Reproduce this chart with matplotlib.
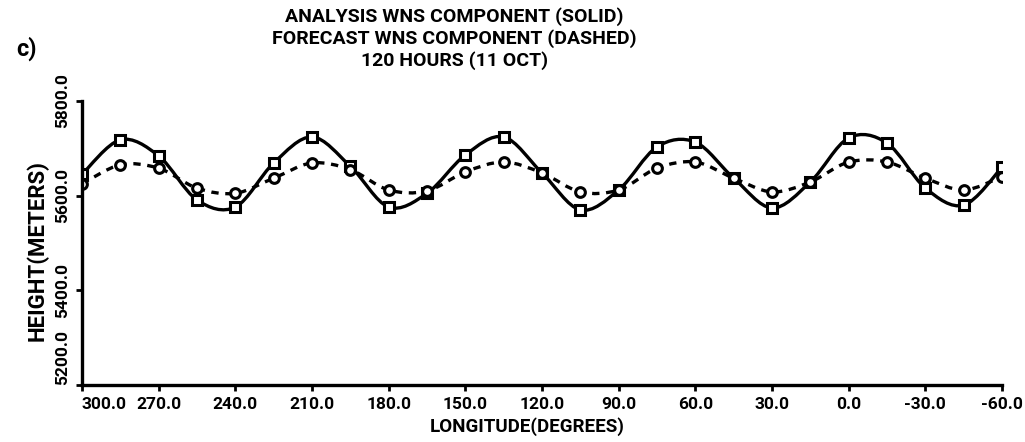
import numpy as np
import matplotlib
matplotlib.use('Agg')
from matplotlib import pyplot as plt
from matplotlib.path import Path
from matplotlib.patches import PathPatch

plt.rcParams['font.family'] = ['Roboto', 'DejaVu Sans']
plt.rcParams['font.weight'] = 'bold'

# longitude (deg), every 15 degrees
lon = [300, 285, 270, 255, 240, 225, 210, 195, 180, 165, 150, 135, 120,
       105, 90, 75, 60, 45, 30, 15, 0, -15, -30, -45, -60]
# analysis WNS component (solid)
analysis = [5645, 5718, 5684, 5591, 5576, 5669, 5724, 5662, 5576, 5605,
            5686, 5724, 5648, 5570, 5612, 5703, 5713, 5637, 5574, 5629,
            5722, 5711, 5616, 5580, 5660]
# forecast WNS component (dashed)
forecast = [5625, 5665, 5658, 5616, 5605, 5637, 5669, 5655, 5612, 5610,
            5650, 5671, 5648, 5608, 5612, 5658, 5671, 5637, 5608, 5629,
            5671, 5671, 5637, 5612, 5640]

xticks = [300, 270, 240, 210, 180, 150, 120, 90, 60, 30, 0, -30, -60]
yticks = [5200, 5400, 5600, 5800]


def smooth_path(x, y):
    # catmull-rom through the points, written as cubic bezier segments
    p = np.column_stack([x, y]).astype(float)
    verts = [p[0]]
    codes = [Path.MOVETO]
    n = len(p)
    for i in range(n - 1):
        p0 = p[i - 1] if i > 0 else p[i]
        p3 = p[i + 2] if i + 2 < n else p[i + 1]
        c1 = p[i] + (p[i + 1] - p0) / 6.0
        c2 = p[i + 1] - (p3 - p[i]) / 6.0
        verts += [c1, c2, p[i + 1]]
        codes += [Path.CURVE4] * 3
    return Path(verts, codes)


fig = plt.figure(figsize=(10.25, 4.42), dpi=100)
ax = fig.add_axes([0.080, 0.129, 0.8976, 0.6425])

ax.add_patch(PathPatch(smooth_path(lon, analysis), fill=False, color='black',
                       lw=2.4, capstyle='round', joinstyle='round'))
ax.add_patch(PathPatch(smooth_path(lon, forecast), fill=False, color='black',
                       lw=2.4, linestyle=(0, (2.2, 2.0))))
ax.plot(lon, analysis, ls='none', marker='s', ms=7, mfc='white', mec='black', mew=2.2)
ax.plot(lon, forecast, ls='none', marker='o', ms=7, mfc='white', mec='black', mew=2.2)

ax.set_xlim(300, -60)
ax.set_ylim(5200, 5800)
for s in ['top', 'right']:
    ax.spines[s].set_visible(False)
for s in ['left', 'bottom']:
    ax.spines[s].set_linewidth(2.4)

ax.set_xticks(xticks)
ax.set_xticklabels(['%.1f' % v for v in xticks], fontsize=12.5)
ax.set_yticks(yticks)
ax.set_yticklabels(['%.1f' % v for v in yticks], fontsize=12.5,
                   rotation=90, va='center')
ax.tick_params(axis='x', direction='out', length=4.5, width=2, pad=4)
ax.tick_params(axis='y', direction='out', length=4.5, width=2, pad=4)
xl = ax.get_xticklabels()
xl[0].set_ha('left')
yl = ax.get_yticklabels()
yl[0].set_va('bottom')

fig.text(0.514, 0.034, 'LONGITUDE(DEGREES)', ha='center', va='center', fontsize=13.5)
fig.text(0.036, 0.434, 'HEIGHT(METERS)', ha='center', va='center',
         rotation=90, fontsize=16)

fig.text(0.443, 0.9615, 'ANALYSIS WNS COMPONENT (SOLID)', ha='center', va='center', fontsize=14)
fig.text(0.443, 0.9118, 'FORECAST WNS COMPONENT (DASHED)', ha='center', va='center', fontsize=14)
fig.text(0.443, 0.862, '120 HOURS (11 OCT)', ha='center', va='center', fontsize=14)
fig.text(0.016, 0.89, 'c)', ha='left', va='center', fontsize=17)

fig.savefig('out.png', dpi=100)
